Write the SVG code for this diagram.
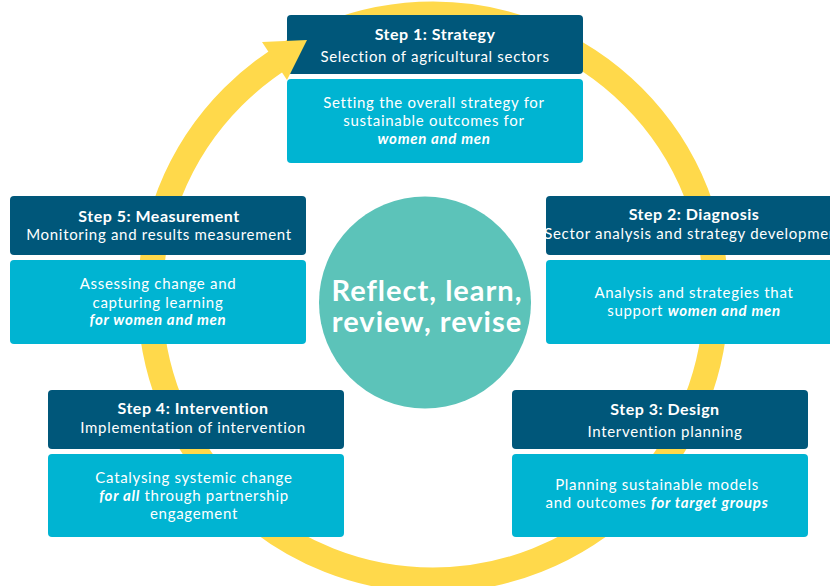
<svg xmlns="http://www.w3.org/2000/svg" width="830" height="586" viewBox="0 0 830 586">
<style>
.hd{fill:#00577A}
.bd{fill:#00B4D2}
text{font-family:Lato,"Noto Sans","Liberation Sans",sans-serif;font-size:15px;letter-spacing:0.7px;fill:#FFFFFF;text-anchor:middle}
.b{font-weight:bold;font-size:16px;letter-spacing:0.5px}
.e{font-weight:bold;font-style:italic}
.c{font-size:29px;font-weight:bold;letter-spacing:1px}
.ring{fill:none;stroke:#FFD94B;stroke-width:25}
</style>
<rect width="830" height="586" fill="#FFFFFF"/>
<g id="connectors">
<circle class="ring" cx="433" cy="297" r="283"/>
</g>
<g id="center">
<circle cx="425" cy="302.5" r="106" fill="#5CC3B9"/>
<text x="427" y="301" class="c">Reflect, learn,</text>
<text x="427" y="332" class="c">review, revise</text>
</g>
<g id="step1">
<rect class="hd" x="287" y="15" width="296" height="59" rx="4"/>
<rect class="bd" x="287" y="79" width="296" height="84" rx="4"/>
<text x="435" y="40" class="b">Step 1: Strategy</text>
<text x="435" y="62">Selection of agricultural sectors</text>
<text x="434" y="108">Setting the overall strategy for</text>
<text x="434" y="126">sustainable outcomes for</text>
<text x="434" y="144" class="e">women and men</text>
</g>
<g id="step2">
<rect class="hd" x="546" y="196" width="296" height="59" rx="4"/>
<rect class="bd" x="546" y="260" width="296" height="84" rx="4"/>
<text x="694" y="220" class="b">Step 2: Diagnosis</text>
<text x="694" y="239">Sector analysis and strategy development</text>
<text x="694" y="298">Analysis and strategies that</text>
<text x="694" y="316">support <tspan class="e">women and men</tspan></text>
</g>
<g id="step3">
<rect class="hd" x="512" y="390" width="296" height="59" rx="4"/>
<rect class="bd" x="512" y="454" width="296" height="83" rx="4"/>
<text x="665" y="415" class="b">Step 3: Design</text>
<text x="665" y="437">Intervention planning</text>
<text x="657" y="490">Planning sustainable models</text>
<text x="657" y="508">and outcomes <tspan class="e">for target groups</tspan></text>
</g>
<g id="step4">
<rect class="hd" x="48" y="390" width="296" height="59" rx="4"/>
<rect class="bd" x="48" y="454" width="296" height="83" rx="4"/>
<text x="193" y="414" class="b">Step 4: Intervention</text>
<text x="193" y="433">Implementation of intervention</text>
<text x="194" y="483">Catalysing systemic change</text>
<text x="194" y="501"><tspan class="e">for all</tspan> through partnership</text>
<text x="194" y="519">engagement</text>
</g>
<g id="step5">
<rect class="hd" x="10" y="196" width="296" height="59" rx="4"/>
<rect class="bd" x="10" y="260" width="296" height="84" rx="4"/>
<text x="159" y="222" class="b">Step 5: Measurement</text>
<text x="159" y="240">Monitoring and results measurement</text>
<text x="158" y="289">Assessing change and</text>
<text x="158" y="308">capturing learning</text>
<text x="158" y="325" class="e">for women and men</text>
</g>
<g id="arrowhead">
<polygon points="262,42 307,40 287,80" fill="#FFD94B"/>
</g>
</svg>
